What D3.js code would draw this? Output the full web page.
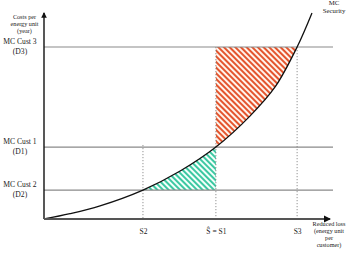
<!DOCTYPE html>
<html><head><meta charset="utf-8">
<script src="https://cdn.jsdelivr.net/npm/d3@7"></script>
<style>body{margin:0;background:#fff}svg{display:block}text{font-family:"Liberation Serif","Times New Roman",serif;fill:#1a1a1a}</style>
</head><body>
<script>
// curve "MC Security" (reduced loss, cost)
const curveX = [0, 9.1, 19.6, 34.6, 47.6, 60.1, 72, 80.8, 88.5, 93.7];
const curveY = [0, 2.6, 6.4, 14.1, 23.4, 35.1, 50.2, 64.4, 83.9, 100.5];
// demand levels
const dLabels = [["MC Cust 3","(D3)"],["MC Cust 1","(D1)"],["MC Cust 2","(D2)"]];
const dValues = [83.9, 35.1, 14.1];
// supply points
const sLabels = ["S2","\u015c = S1","S3"];
const sValues = [34.6, 60.1, 88.5];

const W=352,H=255;
const x=d3.scaleLinear().domain([0,100]).range([44,330]);
const y=d3.scaleLinear().domain([0,100]).range([219,14]);
const svg=d3.select("body").append("svg").attr("width",W).attr("height",H);
const defs=svg.append("defs");
function hatch(id,color,bg){
  const p=defs.append("pattern").attr("id",id).attr("patternUnits","userSpaceOnUse")
    .attr("width",4).attr("height",4).attr("patternTransform","rotate(-45)");
  p.append("rect").attr("width",4).attr("height",4).attr("fill",bg);
  p.append("rect").attr("width",2).attr("height",4).attr("fill",color);
}
hatch("red","#E4552E","#FFF4EC");
hatch("teal","#3CC8A2","#F4FFFB");

const pts=curveX.map((v,i)=>[x(v),y(curveY[i])]);
const line=d3.line().curve(d3.curveCatmullRom.alpha(0.5));
const cpath=line(pts);
defs.append("clipPath").attr("id","above").append("path")
  .attr("d",cpath+`L${x(0)},${y(110)}Z`);
defs.append("clipPath").attr("id","below").append("path")
  .attr("d",cpath+`L${x(100)},${y(0)}Z`);

const [D3,D1,D2]=dValues, [S2,S1,S3]=sValues;
svg.append("rect").attr("clip-path","url(#above)")
  .attr("x",x(S1)).attr("y",y(D3)).attr("width",x(S3)-x(S1)).attr("height",y(D1)-y(D3))
  .attr("fill","url(#red)");
svg.append("rect").attr("clip-path","url(#below)")
  .attr("x",x(S2)).attr("y",y(D1)).attr("width",x(S1)-x(S2)).attr("height",y(D2)-y(D1))
  .attr("fill","url(#teal)");

svg.selectAll("line.d").data(dValues).join("line").attr("class","d")
  .attr("x1",x(0)).attr("x2",333).attr("y1",d=>y(d)).attr("y2",d=>y(d))
  .attr("stroke","#8a8a8a").attr("stroke-width",1.2);
const vTop=[D1+1,D3,D3];
svg.selectAll("line.s").data(sValues).join("line").attr("class","s")
  .attr("x1",d=>x(d)).attr("x2",d=>x(d)).attr("y1",(d,i)=>y(vTop[i])).attr("y2",y(0))
  .attr("stroke","#777").attr("stroke-width",0.8).attr("stroke-dasharray","1.2,1.8");

svg.append("path").attr("d",cpath).attr("fill","none").attr("stroke","#111").attr("stroke-width",1.3);

defs.append("marker").attr("id","arr").attr("viewBox","0 0 6 6").attr("refX",5).attr("refY",3)
  .attr("markerWidth",4).attr("markerHeight",4).attr("orient","auto")
  .append("path").attr("d","M0,0L6,3L0,6Z").attr("fill","#111");
svg.append("line").attr("x1",x(0)).attr("x2",x(0)).attr("y1",y(0)).attr("y2",y(100)-1)
  .attr("stroke","#111").attr("stroke-width",1.4).attr("marker-end","url(#arr)");
svg.append("line").attr("x1",x(0)).attr("x2",x(100)).attr("y1",y(0)).attr("y2",y(0))
  .attr("stroke","#555").attr("stroke-width",1.8).attr("marker-end","url(#arr)");

const ax=svg.append("g").attr("transform",`translate(0,${y(0)})`)
  .call(d3.axisBottom(x).tickValues(sValues).tickFormat((d,i)=>sLabels[i]).tickSize(0).tickPadding(10));
ax.select(".domain").remove();
ax.selectAll("text").attr("font-family","Liberation Serif, serif").attr("font-size",7.5).attr("fill","#1a1a1a");

dValues.forEach((v,i)=>{
  const t=svg.append("text").attr("text-anchor","middle").attr("font-size",7.6);
  t.append("tspan").attr("x",20).attr("y",y(v)-3).text(dLabels[i][0]);
  t.append("tspan").attr("x",20).attr("y",y(v)+6.5).text(dLabels[i][1]);
});
const yt=svg.append("text").attr("text-anchor","middle").attr("font-size",6.2);
["Costs per","energy unit","(year)"].forEach((s,i)=>yt.append("tspan").attr("x",24.5).attr("y",19+i*7).text(s));
const xt=svg.append("text").attr("text-anchor","middle").attr("font-size",6.2);
["Reduced loss","(energy unit","per","customer)"].forEach((s,i)=>xt.append("tspan").attr("x",329).attr("y",226+i*7).text(s));
const mt=svg.append("text").attr("text-anchor","middle").attr("font-size",6.8);
["MC","Security"].forEach((s,i)=>mt.append("tspan").attr("x",334).attr("y",5+i*7.5).text(s));
</script>
</body></html>
